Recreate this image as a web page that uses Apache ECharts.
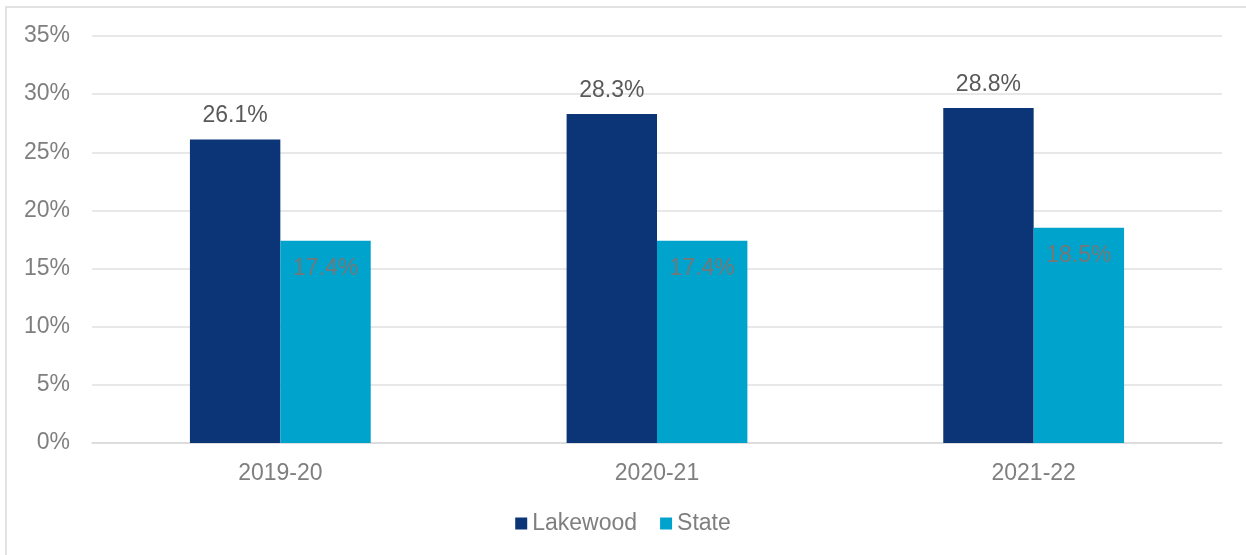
<!DOCTYPE html>
<html>
<head>
<meta charset="utf-8">
<script src="https://cdn.jsdelivr.net/npm/echarts@6/dist/echarts.min.js"></script>
<style>
html, body { margin: 0; padding: 0; background: #fff; }
#chart { width: 1246px; height: 555px; }
</style>
</head>
<body>
<div id="chart"></div>
<script>
// 数据
const years = ['2019-20', '2020-21', '2021-22']
const lakewood = [26.1, 28.3, 28.8]
const state = [17.4, 17.4, 18.5]
const seriesNames = ['Lakewood', 'State']

const font = '"Liberation Sans", Arial, sans-serif'
const chart = echarts.init(document.getElementById('chart'))

const option = {
    animation: false,
    textStyle: { fontFamily: font },
    // 外框（只露出左边和上边）
    graphic: [{
        type: 'rect',
        shape: { x: 6, y: 7, width: 1300, height: 600 },
        style: { fill: 'none', stroke: '#d9d9d9', lineWidth: 1.5 },
        silent: true
    }],
    grid: { left: 92, right: 24, top: 36, bottom: 112 },
    legend: {
        data: seriesNames,
        bottom: 15,
        left: 'center',
        itemWidth: 12,
        itemHeight: 12,
        itemGap: 23,
        icon: 'rect',
        textStyle: { color: '#7f7f7f', fontSize: 23, fontFamily: font }
    },
    xAxis: {
        type: 'category',
        data: years,
        axisLine: { show: true, lineStyle: { color: '#d9d9d9', width: 1.5 } },
        axisTick: { show: false },
        axisLabel: { color: '#7f7f7f', fontSize: 23, margin: 19, fontFamily: font }
    },
    yAxis: {
        type: 'value',
        min: 0,
        max: 35,
        interval: 5,
        axisLine: { show: false },
        axisTick: { show: false },
        axisLabel: { color: '#7f7f7f', fontSize: 23, margin: 22, formatter: '{value}%', fontFamily: font },
        splitLine: { lineStyle: { color: '#e0e0e0', width: 1.5 } }
    },
    series: [
        {
            name: seriesNames[0],
            type: 'bar',
            data: lakewood,
            barGap: '0%',
            barCategoryGap: '52%',
            itemStyle: { color: '#0b3577' },
            label: {
                show: true,
                position: 'top',
                distance: 12,
                color: '#595959',
                fontSize: 23,
                fontFamily: font,
                formatter: p => p.value.toFixed(1) + '%'
            }
        },
        {
            name: seriesNames[1],
            type: 'bar',
            data: state,
            itemStyle: { color: '#00a3cc' },
            label: {
                show: true,
                position: 'insideTop',
                distance: 16,
                color: '#767676',
                fontSize: 23,
                fontFamily: font,
                formatter: p => p.value.toFixed(1) + '%'
            }
        }
    ]
}
chart.setOption(option)
</script>
</body>
</html>
